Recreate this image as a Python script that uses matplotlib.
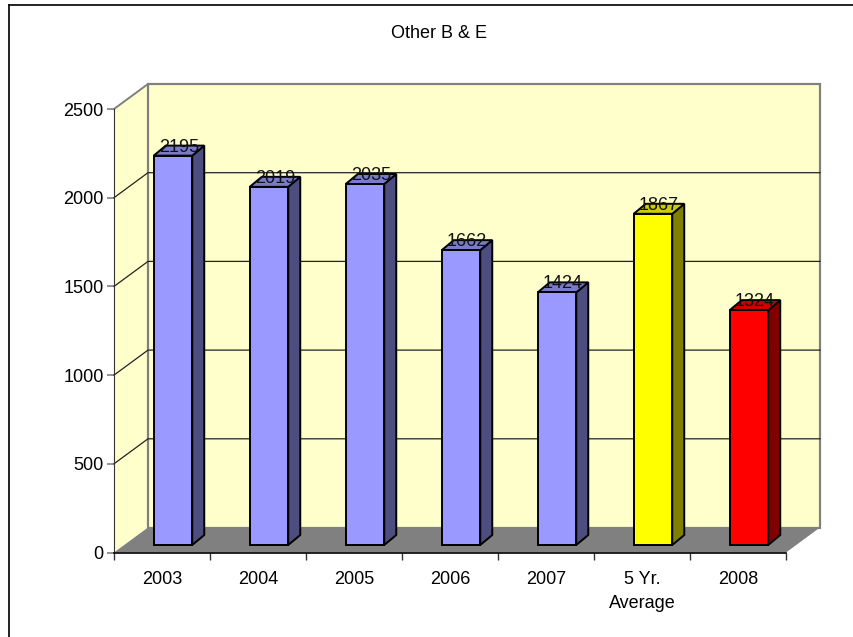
# -*- coding: utf-8 -*-
import matplotlib
matplotlib.use('Agg')
import matplotlib.pyplot as plt
from matplotlib.lines import Line2D
from matplotlib.patches import Polygon, Rectangle

plt.rcParams['font.family'] = ['Liberation Sans', 'DejaVu Sans']

#==data====
categories = ['2003', '2004', '2005', '2006', '2007', '5 Yr.\nAverage', '2008']
values = [2195, 2019, 2035, 1662, 1424, 1867, 1324]
front_colors = ['#9999ff'] * 5 + ['#ffff00', '#ff0000']
top_colors = ['#7a7acc'] * 5 + ['#cccc00', '#cc0000']
side_colors = ['#4d4d80'] * 5 + ['#808000', '#800000']
y_ticks = [0, 500, 1000, 1500, 2000, 2500]

W, H = 854, 637
fig = plt.figure(figsize=(W / 100, H / 100), dpi=100)

#==only the top and left of the chart border show===
bx, by = 9.5 / W, 1 - 4.7 / H
fig.add_artist(Line2D([bx, bx], [0, by], color='#111111', linewidth=1.3))
fig.add_artist(Line2D([bx, 1], [by, by], color='#111111', linewidth=1.3))

#==front plane of the 3d box is the axes===
left, right, top, bottom = 114, 786, 109, 552.5
ax = fig.add_axes([left / W, 1 - bottom / H, (right - left) / W, (bottom - top) / H])
ax.set_xlim(-0.5, 6.5)
ax.set_ylim(0, 2500)
ax.patch.set_visible(False)

px_x = 7 / (right - left)
px_y = 2500 / (bottom - top)
depth_x = 34 * px_x
depth_y = 25 * px_y
bar_w = 38.5 * px_x
bar_dx = 12 * px_x
bar_dy = 10 * px_y
shift_x = (depth_x - bar_dx) / 2
shift_y = (depth_y - bar_dy) / 2

x0, x1 = -0.5, 6.5
# walls and floor
ax.add_patch(Polygon([(x0, 0), (x0 + depth_x, depth_y), (x0 + depth_x, 2500 + depth_y), (x0, 2500)],
                     facecolor='#ffffcc', edgecolor='none', clip_on=False, zorder=1))
ax.add_patch(Polygon([(x0 + depth_x, depth_y), (x1 + depth_x, depth_y), (x1 + depth_x, 2500 + depth_y), (x0 + depth_x, 2500 + depth_y)],
                     facecolor='#ffffcc', edgecolor='#808080', linewidth=1.6, clip_on=False, zorder=1))
ax.add_patch(Polygon([(x0, 0), (x1, 0), (x1 + depth_x, depth_y), (x0 + depth_x, depth_y)],
                     facecolor='#808080', edgecolor='none', clip_on=False, zorder=2))
ax.plot([x0, x0 + depth_x], [2500, 2500 + depth_y], color='#808080', lw=1.4, clip_on=False, zorder=2)

# grid lines
for v in y_ticks[1:-1]:
    ax.plot([x0, x0 + depth_x, x1 + depth_x], [v, v + depth_y, v + depth_y],
            color='#222222', lw=0.9, clip_on=False, zorder=2)

# bars
for i, v in enumerate(values):
    xl = i - bar_w / 2 + shift_x
    xr = xl + bar_w
    yb = shift_y
    yt = shift_y + v
    ax.add_patch(Polygon([(xr, yb), (xr + bar_dx, yb + bar_dy), (xr + bar_dx, yt + bar_dy), (xr, yt)],
                         facecolor=side_colors[i], edgecolor='black', linewidth=1.4, clip_on=False, zorder=3))
    ax.add_patch(Polygon([(xl, yt), (xr, yt), (xr + bar_dx, yt + bar_dy), (xl + bar_dx, yt + bar_dy)],
                         facecolor=top_colors[i], edgecolor='black', linewidth=1.4, clip_on=False, zorder=3))
    ax.add_patch(Rectangle((xl, yb), bar_w, v, facecolor=front_colors[i], edgecolor='black',
                           linewidth=1.4, clip_on=False, zorder=4))
    ax.text(xl + bar_w / 2 + bar_dx / 2, yt + bar_dy - 1.5 * px_y, str(v), ha='center', va='center',
            fontsize=13, color='#111111', zorder=5, clip_on=False)

#==axes===
for s in ['top', 'right']:
    ax.spines[s].set_visible(False)
ax.spines['left'].set_color('#333333')
ax.spines['bottom'].set_color('black')
ax.spines['bottom'].set_linewidth(1.2)
ax.spines['bottom'].set_zorder(6)
ax.set_yticks(y_ticks)
ax.tick_params(axis='y', length=5, width=1.2, color='#808080', labelsize=13, pad=2.5)
ax.set_xticks(range(len(categories)))
ax.set_xticklabels(categories, linespacing=1.58)
ax.set_xticks([i - 0.5 for i in range(len(categories) + 1)], minor=True)
ax.tick_params(axis='x', which='major', length=0, labelsize=13, pad=13)
ax.tick_params(axis='x', which='minor', length=5, width=1, color='#333333')

fig.text(439 / W, 1 - 33 / H, 'Other B & E', ha='center', va='center', fontsize=13)

fig.savefig('out.png', dpi=100)
